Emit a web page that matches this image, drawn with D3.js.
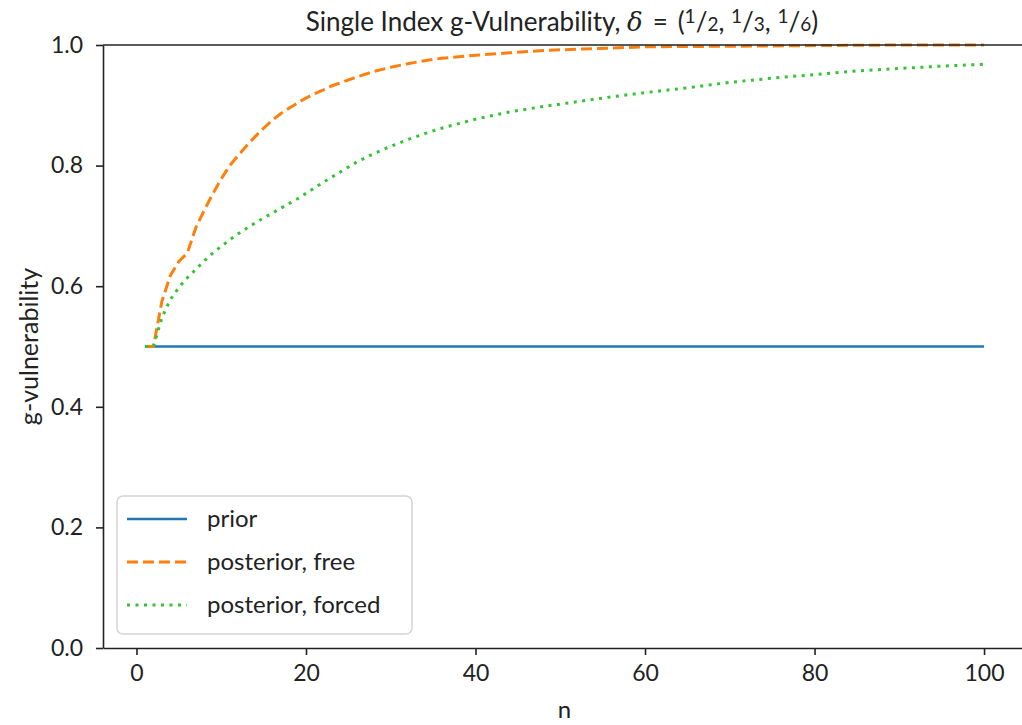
<!DOCTYPE html>
<html>
<head>
<meta charset="utf-8">
<script src="https://cdn.jsdelivr.net/npm/d3@7"></script>
<style>
  body { margin: 0; background: #fff; }
  svg { display: block; font-family: Lato, "Open Sans", sans-serif; }
  .axis path, .axis line { stroke: #222; stroke-width: 1.6; }
  .axis text { font-size: 23px; fill: #222; font-family: Lato, sans-serif; }
</style>
</head>
<body>
<div id="chart"></div>
<script>
// values
var priorN = [1, 100];
var priorV = [0.5, 0.5];

var freeN = [1, 2, 3, 4, 5, 6, 7, 8, 9, 10, 11, 12, 13, 14, 15, 16, 17, 18, 19, 20,
             21, 22, 23, 24, 26, 28, 30, 32, 34, 36, 40, 44, 48, 52, 56, 60, 70, 80, 90, 100];
var freeV = [0.5, 0.5, 0.575, 0.618, 0.641, 0.655, 0.697, 0.726, 0.753, 0.778, 0.80, 0.817,
             0.833, 0.848, 0.862, 0.875, 0.886, 0.895, 0.904, 0.912, 0.919, 0.925, 0.932, 0.937,
             0.947, 0.956, 0.963, 0.969, 0.974, 0.978, 0.983, 0.987, 0.991, 0.993, 0.995, 0.997,
             0.998, 0.999, 1.0, 1.0];

var forcedN = [1, 2, 3, 4, 5, 6, 7, 8, 9, 10, 11, 12, 13, 14, 15, 16, 17, 18, 19, 20,
               22, 24, 26, 28, 30, 32, 34, 36, 40, 44, 48, 52, 56, 60, 65, 70, 75, 80, 85, 90, 95, 100];
var forcedV = [0.5, 0.5, 0.548, 0.578, 0.598, 0.614, 0.628, 0.642, 0.655, 0.666, 0.677, 0.687,
               0.696, 0.705, 0.713, 0.721, 0.729, 0.737, 0.745, 0.754, 0.772, 0.789, 0.806, 0.820,
               0.832, 0.843, 0.853, 0.862, 0.877, 0.889, 0.898, 0.906, 0.914, 0.921, 0.929, 0.938,
               0.945, 0.951, 0.957, 0.961, 0.965, 0.968];

var xTicks = [0, 20, 40, 60, 80, 100];
var yTicks = [0.0, 0.2, 0.4, 0.6, 0.8, 1.0];
var legendLabels = ["prior", "posterior, free", "posterior, forced"];

var width = 1022;
var height = 725;
var plot = {left: 103, right: 1026, top: 45, bottom: 648};

var xScale = d3.scaleLinear().domain([-3.95, 104.95]).range([plot.left, plot.right]);
var yScale = d3.scaleLinear().domain([0, 1]).range([plot.bottom, plot.top]);

var svg = d3.select("#chart").append("svg")
    .attr("width", width)
    .attr("height", height);

var series = [
  {name: legendLabels[0], n: priorN, v: priorV, color: "#1f77b4", width: 2.5, dash: null},
  {name: legendLabels[1], n: freeN, v: freeV, color: "#ff7f0e", width: 3, dash: "11,5"},
  {name: legendLabels[2], n: forcedN, v: forcedV, color: "#33c433", width: 3, dash: "3,5.5"}
];

var line = d3.line()
    .x(function(d) { return xScale(d[0]); })
    .y(function(d) { return yScale(d[1]); });

series.forEach(function(s) {
  var pts = s.n.map(function(n, i) { return [n, s.v[i]]; });
  svg.append("path")
      .attr("d", line(pts))
      .attr("fill", "none")
      .attr("stroke", s.color)
      .attr("stroke-width", s.width)
      .attr("stroke-dasharray", s.dash);
});

// spines
svg.append("line").attr("x1", plot.left).attr("x2", plot.right).attr("y1", plot.top).attr("y2", plot.top)
    .attr("stroke", "#222").attr("stroke-width", 1.6);
svg.append("line").attr("x1", plot.right).attr("x2", plot.right).attr("y1", plot.top).attr("y2", plot.bottom)
    .attr("stroke", "#222").attr("stroke-width", 1.6);

var xAxis = d3.axisBottom(xScale).tickValues(xTicks).tickSize(7).tickPadding(10).tickSizeOuter(0);
var yAxis = d3.axisLeft(yScale).tickValues(yTicks).tickSize(7).tickPadding(13).tickSizeOuter(0)
    .tickFormat(d3.format(".1f"));

svg.append("g").attr("class", "axis")
    .attr("transform", "translate(0," + plot.bottom + ")")
    .call(xAxis);
svg.append("g").attr("class", "axis")
    .attr("transform", "translate(" + plot.left + ",0)")
    .call(yAxis);

// axis labels
svg.append("text")
    .attr("x", (plot.left + plot.right) / 2)
    .attr("y", 718)
    .attr("text-anchor", "middle")
    .attr("font-size", 24)
    .attr("fill", "#222")
    .text("n");

svg.append("text")
    .attr("transform", "translate(38," + (plot.top + plot.bottom) / 2 + ") rotate(-90)")
    .attr("text-anchor", "middle")
    .attr("font-size", 25)
    .attr("fill", "#222")
    .text("g-vulnerability");

// title
var title = svg.append("text")
    .attr("x", 562)
    .attr("y", 31)
    .attr("text-anchor", "middle")
    .attr("font-size", 26)
    .attr("fill", "#222");
title.append("tspan").text("Single Index g-Vulnerability, ");
title.append("tspan").attr("font-family", "DejaVu Serif").attr("font-style", "italic").text("δ");
title.append("tspan").text(" \u2009=\u2009 (");
var fracs = [["1", "2"], ["1", "3"], ["1", "6"]];
fracs.forEach(function(f, i) {
  title.append("tspan").attr("font-size", 19).attr("dy", -8).text(f[0]);
  title.append("tspan").attr("dy", 8).text("/");
  title.append("tspan").attr("font-size", 19).text(f[1]);
  if (i < fracs.length - 1) title.append("tspan").text(", ");
});
title.append("tspan").text(")");

// legend
var legend = svg.append("g").attr("transform", "translate(117,496)");
legend.append("rect")
    .attr("width", 295).attr("height", 138).attr("rx", 6)
    .attr("fill", "#fff").attr("fill-opacity", 0.8)
    .attr("stroke", "#d4d4d4").attr("stroke-width", 1.5);

series.forEach(function(s, i) {
  var yy = 23 + i * 43;
  legend.append("line")
      .attr("x1", 10).attr("x2", 70).attr("y1", yy).attr("y2", yy)
      .attr("stroke", s.color).attr("stroke-width", s.width)
      .attr("stroke-dasharray", s.dash);
  legend.append("text")
      .attr("x", 90).attr("y", yy + 8)
      .attr("font-size", 24).attr("fill", "#222")
      .text(s.name);
});
</script>
</body>
</html>
